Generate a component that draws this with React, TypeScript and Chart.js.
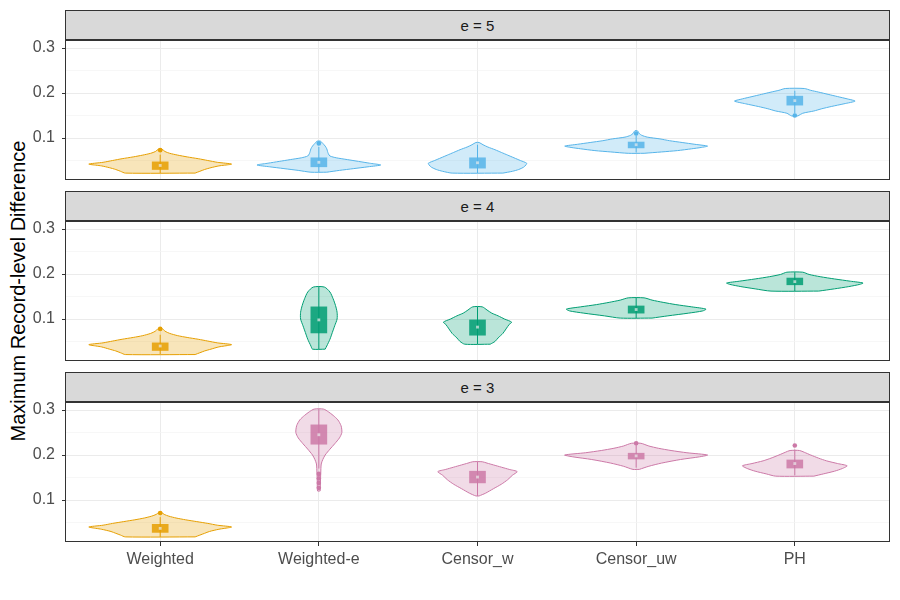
import React, { useEffect, useRef } from 'react';
import { Chart, registerables } from 'chart.js';

Chart.register(...registerables);

const FONT = "'Liberation Sans', Arial, Helvetica, sans-serif";

// ---------- categories & labels ----------
const CATEGORIES = ['Weighted', 'Weighted-e', 'Censor_w', 'Censor_uw', 'PH'];
const PANEL_LABELS = ['e = 5', 'e = 4', 'e = 3'];
const Y_TICKS = [0.05, 0.1, 0.15, 0.2, 0.25, 0.3];
const Y_MAJOR = [0.1, 0.2, 0.3];
const Y_TITLE = 'Maximum Record-level Difference';

// ---------- violin profiles: [value, half-width in category units] ----------
// e = 5
const V5_W = [[0.022, 0.22], [0.026, 0.25], [0.030, 0.28], [0.034, 0.32], [0.038, 0.37], [0.042, 0.45], [0.046, 0.36], [0.050, 0.30], [0.054, 0.24], [0.058, 0.17], [0.062, 0.11], [0.066, 0.06], [0.070, 0.03], [0.075, 0.012]];
const V5_WE = [[0.024, 0.05], [0.028, 0.13], [0.032, 0.22], [0.036, 0.31], [0.040, 0.39], [0.044, 0.32], [0.048, 0.25], [0.052, 0.18], [0.056, 0.11], [0.060, 0.07], [0.065, 0.06], [0.070, 0.055], [0.076, 0.05], [0.082, 0.04], [0.088, 0.025], [0.093, 0.01]];
const V5_CW = [[0.022, 0.16], [0.026, 0.22], [0.030, 0.26], [0.035, 0.29], [0.040, 0.305], [0.044, 0.31], [0.050, 0.27], [0.056, 0.23], [0.062, 0.19], [0.068, 0.15], [0.074, 0.11], [0.080, 0.065], [0.085, 0.035], [0.090, 0.01]];
const V5_CU = [[0.066, 0.05], [0.069, 0.16], [0.072, 0.26], [0.076, 0.35], [0.079, 0.41], [0.082, 0.45], [0.086, 0.37], [0.090, 0.29], [0.094, 0.21], [0.098, 0.15], [0.102, 0.07], [0.106, 0.035], [0.110, 0.02], [0.116, 0.008]];
const V5_PH = [[0.149, 0.02], [0.155, 0.05], [0.160, 0.12], [0.165, 0.17], [0.170, 0.23], [0.176, 0.31], [0.182, 0.38], [0.187, 0.33], [0.192, 0.27], [0.197, 0.21], [0.202, 0.15], [0.206, 0.10], [0.210, 0.06]];
// e = 4
const V4_W = [[0.021, 0.22], [0.025, 0.25], [0.029, 0.28], [0.033, 0.32], [0.038, 0.37], [0.043, 0.45], [0.047, 0.36], [0.051, 0.30], [0.055, 0.24], [0.059, 0.17], [0.063, 0.11], [0.068, 0.06], [0.073, 0.03], [0.079, 0.012]];
const V4_WE = [[0.033, 0.04], [0.040, 0.05], [0.055, 0.07], [0.070, 0.085], [0.085, 0.10], [0.100, 0.115], [0.115, 0.115], [0.130, 0.105], [0.145, 0.09], [0.160, 0.07], [0.171, 0.035]];
const V4_CW = [[0.044, 0.08], [0.050, 0.11], [0.058, 0.13], [0.068, 0.16], [0.078, 0.18], [0.088, 0.20], [0.093, 0.215], [0.100, 0.17], [0.107, 0.13], [0.113, 0.09], [0.120, 0.06], [0.127, 0.03]];
const V4_CU = [[0.102, 0.10], [0.107, 0.20], [0.113, 0.33], [0.118, 0.42], [0.122, 0.44], [0.127, 0.35], [0.132, 0.25], [0.137, 0.17], [0.142, 0.10], [0.147, 0.05]];
const V4_PH = [[0.162, 0.15], [0.167, 0.25], [0.172, 0.34], [0.177, 0.41], [0.180, 0.43], [0.184, 0.35], [0.189, 0.25], [0.194, 0.16], [0.199, 0.09], [0.204, 0.05]];
// e = 3
const V3_W = [[0.018, 0.22], [0.022, 0.25], [0.026, 0.28], [0.030, 0.31], [0.035, 0.37], [0.040, 0.45], [0.044, 0.36], [0.048, 0.30], [0.052, 0.23], [0.056, 0.16], [0.060, 0.10], [0.064, 0.055], [0.068, 0.025], [0.072, 0.01]];
const V3_WE = [[0.120, 0.008], [0.140, 0.01], [0.160, 0.012], [0.180, 0.015], [0.190, 0.025], [0.200, 0.04], [0.213, 0.07], [0.225, 0.10], [0.238, 0.13], [0.250, 0.145], [0.265, 0.14], [0.278, 0.12], [0.288, 0.09], [0.296, 0.06], [0.302, 0.03]];
const V3_CW = [[0.109, 0.01], [0.115, 0.05], [0.125, 0.10], [0.135, 0.15], [0.145, 0.19], [0.155, 0.22], [0.163, 0.25], [0.168, 0.20], [0.173, 0.15], [0.178, 0.10], [0.182, 0.06], [0.185, 0.03]];
const V3_CU = [[0.168, 0.02], [0.175, 0.08], [0.182, 0.16], [0.190, 0.28], [0.196, 0.40], [0.200, 0.45], [0.205, 0.32], [0.210, 0.22], [0.215, 0.14], [0.220, 0.08], [0.226, 0.03]];
const V3_PH = [[0.153, 0.12], [0.158, 0.18], [0.164, 0.25], [0.170, 0.30], [0.176, 0.33], [0.181, 0.27], [0.187, 0.20], [0.193, 0.15], [0.200, 0.10], [0.206, 0.06], [0.210, 0.03]];

// ---------- box-plot statistics (per category) ----------
const E5_Q1 = [0.030, 0.036, 0.033, 0.078, 0.173];
const E5_Q3 = [0.047, 0.056, 0.056, 0.091, 0.193];
const E5_LO = [0.022, 0.024, 0.022, 0.068, 0.155];
const E5_HI = [0.063, 0.080, 0.085, 0.105, 0.205];
const E5_MEAN = [0.039, 0.046, 0.045, 0.085, 0.183];
const E5_OUT = [[0.073], [0.088], [], [0.110], [0.150]];

const E4_Q1 = [0.030, 0.069, 0.064, 0.113, 0.176];
const E4_Q3 = [0.047, 0.127, 0.098, 0.129, 0.191];
const E4_LO = [0.022, 0.033, 0.044, 0.102, 0.162];
const E4_HI = [0.065, 0.171, 0.127, 0.147, 0.204];
const E4_MEAN = [0.040, 0.098, 0.082, 0.121, 0.183];
const E4_OUT = [[0.078], [], [], [], []];

const E3_Q1 = [0.028, 0.224, 0.138, 0.191, 0.171];
const E3_Q3 = [0.046, 0.267, 0.164, 0.204, 0.189];
const E3_LO = [0.018, 0.170, 0.109, 0.172, 0.155];
const E3_HI = [0.062, 0.302, 0.185, 0.222, 0.212];
const E3_MEAN = [0.037, 0.245, 0.151, 0.198, 0.181];
const E3_OUT = [[0.071], [0.158, 0.148, 0.138, 0.127], [], [0.226], [0.221]];

// ---------- assembled per panel ----------
const PANEL_VIOLINS = [
  [V5_W, V5_WE, V5_CW, V5_CU, V5_PH],
  [V4_W, V4_WE, V4_CW, V4_CU, V4_PH],
  [V3_W, V3_WE, V3_CW, V3_CU, V3_PH],
];
const PANEL_STATS = [
  { q1: E5_Q1, q3: E5_Q3, lo: E5_LO, hi: E5_HI, mean: E5_MEAN, out: E5_OUT },
  { q1: E4_Q1, q3: E4_Q3, lo: E4_LO, hi: E4_HI, mean: E4_MEAN, out: E4_OUT },
  { q1: E3_Q1, q3: E3_Q3, lo: E3_LO, hi: E3_HI, mean: E3_MEAN, out: E3_OUT },
];

const ORANGE = [230, 159, 0];
const PANEL_COLORS = [[86, 180, 233], [0, 158, 115], [204, 121, 167]];
const rgba = (c: number[], a: number) => `rgba(${c[0]},${c[1]},${c[2]},${a})`;

// layout
const PANEL_TOPS = [40, 221, 402];
const PANEL_H = 140;
const STRIP_H = 30;
const PLOT_LEFT = 65;
const PLOT_RIGHT = 890;
const Y_MIN = 0.1 - 42 / 450;
const Y_MAX = 0.1 + 98 / 450;

const isMajor = (v: number) => Y_MAJOR.some((m) => Math.abs(m - v) < 1e-6);

const panelBorder = {
  id: 'panelBorder',
  afterDraw(chart: any) {
    const { ctx, chartArea } = chart;
    const { left, top, right, bottom } = chartArea;
    ctx.save();
    ctx.strokeStyle = '#333333';
    ctx.lineWidth = 1;
    ctx.strokeRect(left + 0.5, top + 0.5, right - left - 1, bottom - top - 1);
    ctx.restore();
  },
};

function violinPoints(center: number, profile: number[][]) {
  const right = profile.map(([v, w]) => ({ x: center + w, y: v }));
  const left = profile
    .slice()
    .reverse()
    .map(([v, w]) => ({ x: center - w, y: v }));
  return [...right, ...left, right[0]];
}

function Panel({ idx }: { idx: number }) {
  const ref = useRef<HTMLCanvasElement>(null);
  const isBottom = idx === 2;
  const padTop = 14;
  const xAxisH = isBottom ? 44 : 0;
  const padBottom = isBottom ? 0 : 14;
  const canvasH = padTop + PANEL_H + xAxisH + padBottom;

  useEffect(() => {
    if (!ref.current) return;
    const pc = PANEL_COLORS[idx];
    const colors = CATEGORIES.map((_, i) => (i === 0 ? ORANGE : pc));
    const violins = PANEL_VIOLINS[idx];
    const st = PANEL_STATS[idx];
    const datasets: any[] = [];

    // mean markers (top-most)
    datasets.push({
      type: 'scatter',
      order: 0,
      data: st.mean.map((m, i) => ({ x: i + 1, y: m })),
      pointStyle: 'rect',
      pointRadius: 2,
      backgroundColor: 'rgba(235,235,235,0.7)',
      borderWidth: 0,
    });
    // outliers
    const outPts: any[] = [];
    const outCols: string[] = [];
    st.out.forEach((arr, i) =>
      arr.forEach((v) => {
        outPts.push({ x: i + 1, y: v });
        outCols.push(rgba(colors[i], 1));
      })
    );
    datasets.push({
      type: 'scatter',
      order: 1,
      data: outPts,
      pointRadius: 2.3,
      pointBackgroundColor: outCols,
      pointBorderWidth: 0,
    });
    // boxes
    datasets.push({
      type: 'bar',
      order: 2,
      data: st.q1.map((q, i) => ({ x: i + 1, y: [q, st.q3[i]] })),
      backgroundColor: colors.map((c) => rgba(c, 0.85)),
      borderColor: colors.map((c) => rgba(c, 1)),
      borderWidth: 0,
      barThickness: 16,
      borderSkipped: false,
    });
    // whiskers
    CATEGORIES.forEach((_, i) => {
      datasets.push({
        type: 'line',
        order: 3,
        data: [
          { x: i + 1, y: st.lo[i] },
          { x: i + 1, y: st.hi[i] },
        ],
        borderColor: rgba(colors[i], 1),
        borderWidth: 1,
        pointRadius: 0,
        fill: false,
        tension: 0,
      });
    });
    // violins
    CATEGORIES.forEach((_, i) => {
      datasets.push({
        type: 'line',
        order: 4,
        data: violinPoints(i + 1, violins[i]),
        borderColor: rgba(colors[i], 1),
        backgroundColor: rgba(colors[i], 0.27),
        borderWidth: 1,
        pointRadius: 0,
        fill: 'shape',
        tension: 0.25,
      });
    });

    const chart = new Chart(ref.current, {
      type: 'line',
      data: { datasets },
      options: {
        animation: false,
        responsive: false,
        events: [],
        layout: { padding: { left: 0, right: 900 - PLOT_RIGHT, top: padTop, bottom: padBottom } },
        plugins: { legend: { display: false }, tooltip: { enabled: false } },
        scales: {
          x: {
            type: 'linear',
            offset: false,
            min: 0.4,
            max: 5.6,
            afterBuildTicks: (s: any) => {
              s.ticks = CATEGORIES.map((_, i) => ({ value: i + 1 }));
            },
            afterFit: (s: any) => {
              s.height = xAxisH;
              s.paddingLeft = 0;
              s.paddingRight = 0;
            },
            grid: {
              offset: false,
              color: '#EBEBEB',
              lineWidth: 1,
              drawTicks: isBottom,
              tickLength: 4,
              tickColor: '#333333',
            },
            border: { display: false },
            ticks: {
              display: isBottom,
              autoSkip: false,
              maxRotation: 0,
              padding: 4,
              color: '#4D4D4D',
              font: { size: 16, family: FONT },
              callback: (v: any) => CATEGORIES[Math.round(Number(v)) - 1] ?? '',
            },
          },
          y: {
            type: 'linear',
            min: Y_MIN,
            max: Y_MAX,
            afterBuildTicks: (s: any) => {
              s.ticks = Y_TICKS.map((v) => ({ value: v }));
            },
            afterFit: (s: any) => {
              s.width = PLOT_LEFT;
              s.paddingTop = 0;
              s.paddingBottom = 0;
            },
            grid: {
              color: (c: any) => (isMajor(c.tick?.value) ? '#EBEBEB' : '#F4F4F4'),
              lineWidth: (c: any) => (isMajor(c.tick?.value) ? 1 : 0.7),
              tickLength: 3,
              tickColor: (c: any) => (isMajor(c.tick?.value) ? '#333333' : 'rgba(0,0,0,0)'),
            },
            border: { display: false },
            ticks: {
              autoSkip: false,
              padding: 7,
              color: '#4D4D4D',
              font: { size: 16, family: FONT },
              callback: (v: any) => (isMajor(Number(v)) ? Number(v).toFixed(1) : ''),
            },
          },
        },
      } as any,
      plugins: [panelBorder],
    });
    return () => chart.destroy();
  }, [idx]);

  const top = PANEL_TOPS[idx];
  return (
    <>
      <div
        style={{
          position: 'absolute',
          left: PLOT_LEFT,
          top: top - STRIP_H,
          width: PLOT_RIGHT - PLOT_LEFT,
          height: STRIP_H,
          boxSizing: 'border-box',
          background: '#D9D9D9',
          border: '1px solid #333333',
          display: 'flex',
          alignItems: 'center',
          justifyContent: 'center',
          fontFamily: FONT,
          fontSize: 15,
          color: '#1A1A1A',
        }}
      >
        {PANEL_LABELS[idx]}
      </div>
      <canvas
        ref={ref}
        width={900}
        height={canvasH}
        style={{ position: 'absolute', left: 0, top: top - padTop, width: 900, height: canvasH }}
      />
    </>
  );
}

export default function App() {
  return (
    <div
      style={{
        position: 'absolute',
        left: 0,
        top: 0,
        width: 900,
        height: 600,
        background: '#FFFFFF',
        overflow: 'hidden',
      }}
    >
      <div
        style={{
          position: 'absolute',
          left: 18,
          top: 291,
          transform: 'translate(-50%, -50%) rotate(-90deg)',
          whiteSpace: 'nowrap',
          fontFamily: FONT,
          fontSize: 20,
          color: '#000000',
        }}
      >
        {Y_TITLE}
      </div>
      {[0, 1, 2].map((i) => (
        <Panel key={i} idx={i} />
      ))}
    </div>
  );
}
